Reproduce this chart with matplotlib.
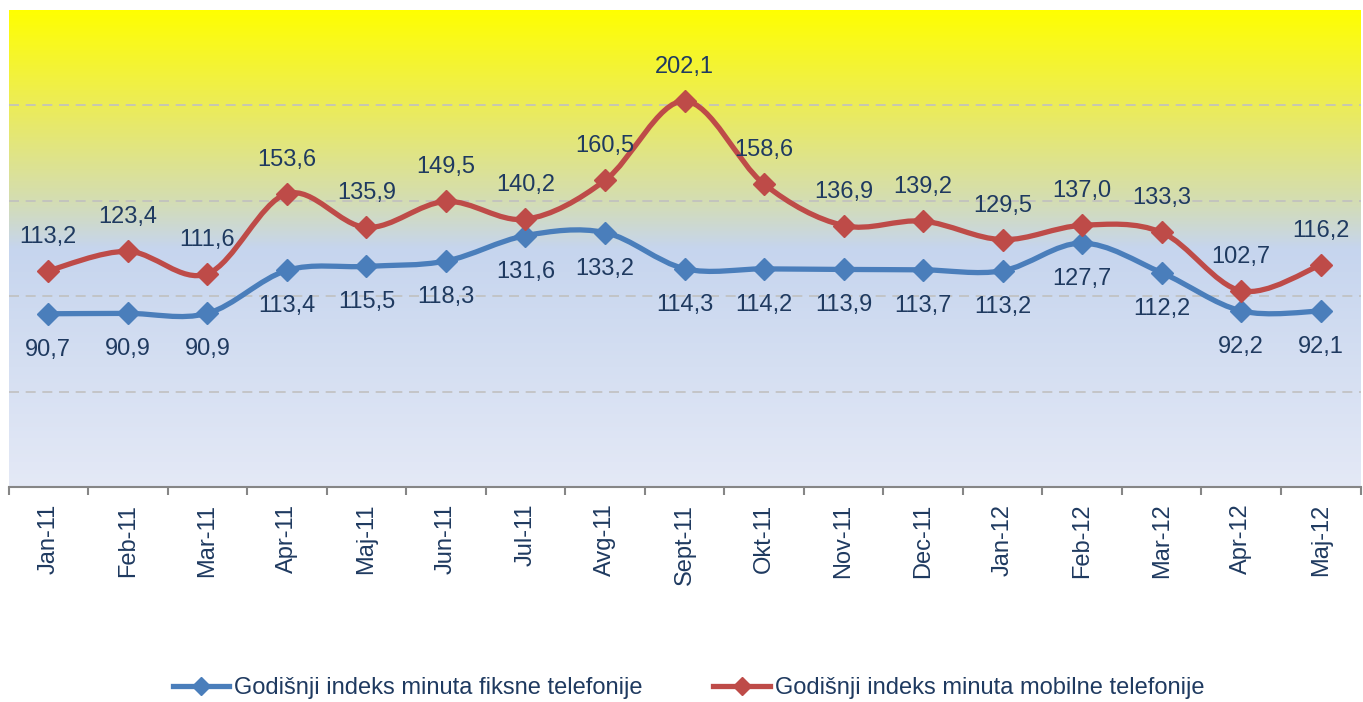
import numpy as np
import matplotlib.pyplot as plt
from matplotlib.path import Path
from matplotlib.patches import PathPatch
from matplotlib.colors import LinearSegmentedColormap

plt.rcParams['font.family'] = ['Liberation Sans', 'DejaVu Sans']

# ── data ───────────────────────────────────────────────────────
months = ['Jan-11', 'Feb-11', 'Mar-11', 'Apr-11', 'Maj-11', 'Jun-11', 'Jul-11',
          'Avg-11', 'Sept-11', 'Okt-11', 'Nov-11', 'Dec-11', 'Jan-12', 'Feb-12',
          'Mar-12', 'Apr-12', 'Maj-12']
fiksna = [90.7, 90.9, 90.9, 113.4, 115.5, 118.3, 131.6, 133.2, 114.3, 114.2,
          113.9, 113.7, 113.2, 127.7, 112.2, 92.2, 92.1]
mobilna = [113.2, 123.4, 111.6, 153.6, 135.9, 149.5, 140.2, 160.5, 202.1, 158.6,
           136.9, 139.2, 129.5, 137.0, 133.3, 102.7, 116.2]
name_fix = 'Godišnji indeks minuta fiksne telefonije'
name_mob = 'Godišnji indeks minuta mobilne telefonije'

BLUE = '#4A7EBB'
RED = '#BE4B48'
TXT = '#1F3A60'


def smooth_path(x, y):
    # Excel-like smoothed line as cubic Bezier segments
    p = np.column_stack([x, y]).astype(float)
    n = len(p)
    verts = [p[0]]
    codes = [Path.MOVETO]
    for i in range(n - 1):
        p0 = p[i - 1] if i > 0 else p[i]
        p3 = p[i + 2] if i + 2 < n else p[i + 1]
        c1 = p[i] + (p[i + 1] - p0) / 6
        c2 = p[i + 1] - (p3 - p[i]) / 6
        verts += [c1, c2, p[i + 1]]
        codes += [Path.CURVE4] * 3
    return Path(verts, codes)


fig = plt.figure(figsize=(13.63, 7.02), dpi=100)
ax = fig.add_axes([8.5 / 1363, 1 - 487 / 702, 1352 / 1363, 477.5 / 702])

x = np.arange(len(months))
ax.set_xlim(-0.5, len(months) - 0.5)
ax.set_ylim(0, 250)

# gradient background
cmap = LinearSegmentedColormap.from_list('bg', [
    (0.0, (228 / 255, 233 / 255, 246 / 255)),
    (0.5, (198 / 255, 213 / 255, 238 / 255)),
    (0.6, (212 / 255, 221 / 255, 178 / 255)),
    (0.8, (236 / 255, 236 / 255, 88 / 255)),
    (1.0, (255 / 255, 255 / 255, 0 / 255)),
])
grad = np.linspace(0, 1, 256).reshape(-1, 1)
ax.imshow(grad, cmap=cmap, origin='lower', aspect='auto',
          extent=[-0.5, len(months) - 0.5, 0, 250], zorder=0)

for g in [50, 100, 150, 200, 250]:
    ax.axhline(g, color='#C0C0C0', lw=1.2, ls=(0, (6, 4)), zorder=1)

for vals, col in [(fiksna, BLUE), (mobilna, RED)]:
    ax.add_patch(PathPatch(smooth_path(x, vals), fc='none', ec=col, lw=3.8,
                           capstyle='round', joinstyle='round', zorder=3))
    ax.plot(x, vals, ls='none', marker='D', ms=11, color=col, zorder=4)

# data labels: blue below, red above
for i, v in enumerate(fiksna):
    ax.annotate(f'{v:.1f}'.replace('.', ','), (x[i], v), xytext=(0, -36),
                textcoords='offset pixels', ha='center', va='center',
                fontsize=17, color=TXT, zorder=5)
for i, v in enumerate(mobilna):
    ax.annotate(f'{v:.1f}'.replace('.', ','), (x[i], v), xytext=(0, 34),
                textcoords='offset pixels', ha='center', va='center',
                fontsize=17, color=TXT, zorder=5)

# axes styling
for s in ['left', 'right', 'top']:
    ax.spines[s].set_visible(False)
ax.spines['bottom'].set_color('#868686')
ax.spines['bottom'].set_linewidth(1.5)
ax.set_yticks([])
ax.set_xticks(np.arange(len(months) + 1) - 0.5)
ax.set_xticklabels([])
ax.tick_params(axis='x', which='major', length=6, width=1.5, color='#868686')
ax.set_xticks(x, minor=True)
ax.set_xticklabels(months, minor=True, rotation=90, fontsize=17, color=TXT)
ax.tick_params(axis='x', which='minor', length=0, pad=12)

# legend
h1, = ax.plot([], [], color=BLUE, lw=3.8, marker='D', ms=9)
h2, = ax.plot([], [], color=RED, lw=3.8, marker='D', ms=9)
leg = fig.legend([h1, h2], [name_fix, name_mob], loc='center', ncol=2,
                 bbox_to_anchor=(0.505, 1 - 688 / 702), frameon=False,
                 fontsize=17, handlelength=2.4, handletextpad=0.2,
                 columnspacing=3.0)
for t in leg.get_texts():
    t.set_color(TXT)

fig.savefig('out.png', dpi=100)
